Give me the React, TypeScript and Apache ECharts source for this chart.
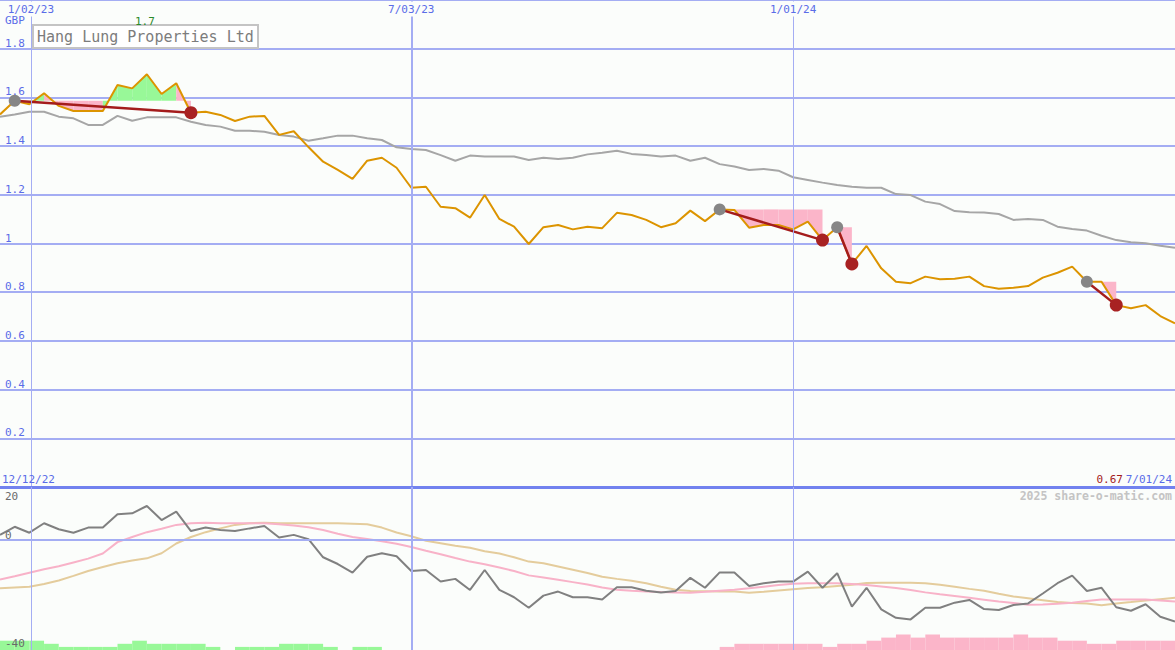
import React, { useEffect, useRef } from "react";
import * as echarts from "echarts";

// Weekly closing price (GBP), index 0 = first week on the chart
const price = [
  1.530, 1.586, 1.572, 1.617, 1.565, 1.544, 1.544, 1.544, 1.651, 1.637,
  1.695, 1.614, 1.658, 1.537, 1.541, 1.528, 1.503, 1.521, 1.524, 1.446,
  1.461, 1.396, 1.336, 1.302, 1.265, 1.340, 1.352, 1.311, 1.229, 1.233,
  1.151, 1.145, 1.106, 1.199, 1.101, 1.069, 0.998, 1.067, 1.076, 1.058,
  1.069, 1.063, 1.126, 1.117, 1.097, 1.067, 1.083, 1.135, 1.092, 1.140,
  1.138, 1.065, 1.076, 1.076, 1.058, 1.090, 1.014, 1.067, 0.916, 0.990,
  0.898, 0.843, 0.837, 0.864, 0.853, 0.855, 0.864, 0.825, 0.814, 0.818,
  0.825, 0.860, 0.880, 0.905, 0.843, 0.843, 0.747, 0.734, 0.747, 0.702,
  0.672,
];

// Relative-strength comparison line (grey)
const relative = [
  1.521, 1.530, 1.541, 1.541, 1.521, 1.514, 1.487, 1.487, 1.524, 1.504,
  1.518, 1.518, 1.518, 1.500, 1.487, 1.480, 1.463, 1.463, 1.459, 1.446,
  1.439, 1.422, 1.432, 1.443, 1.443, 1.432, 1.425, 1.395, 1.388, 1.384,
  1.363, 1.340, 1.361, 1.357, 1.357, 1.357, 1.343, 1.352, 1.347, 1.352,
  1.366, 1.373, 1.381, 1.368, 1.363, 1.357, 1.361, 1.340, 1.352, 1.326,
  1.316, 1.302, 1.306, 1.299, 1.272, 1.261, 1.250, 1.240, 1.233, 1.229,
  1.229, 1.203, 1.199, 1.172, 1.162, 1.133, 1.128, 1.127, 1.121, 1.097,
  1.101, 1.097, 1.069, 1.060, 1.053, 1.032, 1.014, 1.005, 1.001, 0.991,
  0.983,
];

// Lower panel oscillator (dark grey)
const oscillator = [
  1.9, 4.9, 2.7, 6.2, 4.0, 2.7, 4.6, 4.6, 9.5, 9.9,
  12.6, 7.4, 10.5, 3.3, 4.6, 3.7, 3.3, 4.3, 5.2, 0.9,
  1.9, 0.3, -6.4, -8.9, -12.1, -6.2, -4.9, -6.0, -11.5, -11.1,
  -15.4, -14.4, -18.5, -11.1, -18.5, -21.2, -25.1, -20.6, -19.1, -21.2,
  -21.2, -22.0, -17.5, -17.5, -18.8, -19.4, -18.9, -14.0, -17.7, -12.0,
  -12.0, -17.0, -16.0, -15.4, -15.4, -11.7, -17.7, -12.3, -24.7, -17.7,
  -25.7, -28.8, -29.4, -25.1, -25.1, -23.2, -22.2, -25.6, -25.9, -24.1,
  -23.5, -19.8, -16.0, -13.2, -18.9, -17.7, -24.9, -26.2, -23.8, -28.4,
  -30.2,
];

// Lower panel fast average (pink)
const averageFast = [
  -14.6, -13.4, -12.1, -10.8, -9.7, -8.3, -6.9, -5.0, -0.8, 1.1,
  2.9, 4.2, 5.6, 6.2, 6.4, 6.2, 6.2, 6.2, 6.2, 5.8,
  5.4, 4.7, 3.7, 2.3, 1.1, 0.4, -0.5, -1.4, -2.6, -4.0,
  -5.3, -6.7, -8.0, -9.0, -10.2, -11.5, -13.1, -13.9, -14.7, -15.6,
  -16.5, -17.6, -18.4, -18.8, -19.1, -19.3, -19.4, -19.5, -19.2, -18.8,
  -18.4, -17.9, -17.3, -16.7, -16.2, -16.0, -16.0, -16.0, -16.3, -16.7,
  -17.2, -17.8, -18.5, -19.4, -20.1, -20.7, -21.4, -22.1, -22.8, -23.3,
  -24.0, -23.9, -23.6, -23.2, -22.6, -22.0, -22.0, -22.0, -22.0, -22.4,
  -22.8,
];

// Lower panel slow average (tan)
const averageSlow = [
  -17.9, -17.6, -17.3, -16.3, -15.0, -13.3, -11.5, -10.0, -8.6, -7.6,
  -6.8, -4.9, -1.3, 1.1, 2.9, 4.3, 5.6, 6.2, 6.4, 6.2,
  6.2, 6.2, 6.2, 6.2, 6.0, 5.8, 4.6, 2.8, 1.4, -0.3,
  -1.2, -2.1, -2.9, -4.2, -5.0, -6.4, -8.0, -8.6, -9.8, -11.0,
  -12.2, -13.6, -14.4, -15.1, -16.0, -17.3, -18.4, -18.9, -19.0, -19.1,
  -19.1, -19.5, -19.2, -18.7, -18.2, -17.8, -17.5, -17.0, -16.6, -15.9,
  -15.8, -15.8, -15.8, -16.0, -16.6, -17.3, -18.1, -18.8, -19.9, -20.9,
  -21.6, -22.3, -23.0, -23.3, -23.5, -24.2, -23.5, -23.0, -22.4, -21.9,
  -21.4,
];

// Weekly histogram levels (positive = green, negative = pink), one per week interval
const histogram = [
  3, 3, 3, 2, 1, 1, 1, 1, 2, 3,
  2, 2, 2, 2, 1, 0, 1, 1, 1, 2,
  2, 2, 1, 0, 1, 1, 0, 0, 0, 0,
  0, 0, 0, 0, 0, 0, 0, 0, 0, 0,
  0, 0, 0, 0, 0, 0, 0, 0, 0, -1,
  -2, -2, -2, -2, -2, -2, -1, -2, -2, -3,
  -4, -5, -4, -5, -4, -4, -4, -4, -4, -5,
  -4, -4, -3, -3, -2, -2, -3, -3, -3, -3,
];

// Trades: entry and exit week indices
const tradeStart = [1, 49, 57, 74];
const tradeEnd = [13, 56, 58, 76];

// Date grid lines (week index) and their labels
const dateLinePos = [2.1, 28, 54];
const dateLineLabels = ["1/02/23", "7/03/23", "1/01/24"];
const dateLineWidths = [1, 2, 1];

const lowerTicks = [20, 0, -40];
const titleText = "Hang Lung Properties Ltd";
const currencyText = "GBP";
const rangeStartLabel = "12/12/22";
const rangeEndLabel = "7/01/24";
const creditText = "2025 share-o-matic.com";

const MONO = "'DejaVu Sans Mono', 'Liberation Mono', monospace";
const BG = "#fbfdfb";
const LIGHT_BLUE = "#a4adf3";
const DIVIDER = "#7282ef";
const LABEL_BLUE = "#5a6ce8";
const ORANGE = "#dc9400";
const REL_GREY = "#a6a6a6";
const FILL_PINK = "#fbb5c9";
const FILL_GREEN = "#98f898";
const DARK_RED = "#a41c1c";
const DOT_RED = "#a82222";
const DOT_GREY = "#868686";

const LOWER_MIN = -40.74;
const LOWER_MAX = 19.63;

export default function App() {
  const ref = useRef<HTMLDivElement>(null);

  useEffect(() => {
    document.body.style.margin = "0";
    const chart = echarts.init(ref.current!, null, { renderer: "svg" });
    const pairs = (arr: number[]) => arr.map((v, i) => [i, v]);
    const lastIdx = price.length - 1;

    const dateMarkLines = dateLinePos.map((x, i) => ({
      xAxis: x,
      lineStyle: { color: LIGHT_BLUE, width: dateLineWidths[i], type: "solid" },
    }));

    const option: any = {
      animation: false,
      backgroundColor: BG,
      grid: [
        { left: 0, right: 0, top: 0, height: 487 },
        { left: 0, right: 0, top: 487, height: 163 },
      ],
      xAxis: [
        { type: "value", gridIndex: 0, min: 0, max: lastIdx, show: false },
        { type: "value", gridIndex: 1, min: 0, max: lastIdx, show: false },
      ],
      yAxis: [
        {
          type: "value",
          gridIndex: 0,
          min: 0,
          max: 2,
          interval: 0.2,
          axisLine: { show: false },
          axisTick: { show: false },
          splitLine: { show: true, lineStyle: { color: LIGHT_BLUE, width: 2 } },
          axisLabel: {
            inside: true,
            margin: 5,
            align: "left",
            verticalAlign: "bottom",
            color: LABEL_BLUE,
            fontFamily: MONO,
            fontSize: 11,
            showMinLabel: false,
            showMaxLabel: false,
            formatter: (v: number) => (v <= 0.001 || v >= 1.999 ? "" : String(+v.toFixed(1))),
          },
        },
        { type: "value", gridIndex: 1, min: LOWER_MIN, max: LOWER_MAX, show: false },
        { type: "value", gridIndex: 1, min: 0, max: 52.6, show: false },
      ],
      series: [
        // trade shading
        {
          type: "custom",
          xAxisIndex: 0,
          yAxisIndex: 0,
          z: 1,
          silent: true,
          data: tradeStart.map((s, i) => [s, tradeEnd[i]]),
          renderItem: (_p: any, api: any) => {
            const s = api.value(0);
            const e = api.value(1);
            const level = price[s];
            const children: any[] = [];
            for (let k = s; k < e; k++) {
              const p1 = api.coord([k, price[k]]);
              const p2 = api.coord([k + 1, price[k + 1]]);
              const l1 = api.coord([k, level]);
              const l2 = api.coord([k + 1, level]);
              children.push({
                type: "polygon",
                shape: { points: [p1, p2, l2, l1] },
                style: { fill: price[k + 1] > level ? FILL_GREEN : FILL_PINK },
              });
            }
            return { type: "group", children };
          },
        },
        {
          type: "line",
          name: "relative",
          xAxisIndex: 0,
          yAxisIndex: 0,
          z: 2,
          data: pairs(relative),
          symbol: "none",
          lineStyle: { color: REL_GREY, width: 2 },
          markLine: {
            silent: true,
            symbol: "none",
            label: { show: false },
            data: [
              ...dateMarkLines,
              { yAxis: 0, lineStyle: { color: DIVIDER, width: 3, type: "solid" } },
            ],
          },
        },
        {
          type: "line",
          name: "price",
          xAxisIndex: 0,
          yAxisIndex: 0,
          z: 3,
          data: pairs(price),
          symbol: "none",
          lineStyle: { color: ORANGE, width: 2 },
        },
        // trade lines and markers
        {
          type: "custom",
          xAxisIndex: 0,
          yAxisIndex: 0,
          z: 4,
          silent: true,
          data: tradeStart.map((s, i) => [s, tradeEnd[i]]),
          renderItem: (_p: any, api: any) => {
            const s = api.value(0);
            const e = api.value(1);
            const a = api.coord([s, price[s]]);
            const b = api.coord([e, price[e]]);
            return {
              type: "group",
              children: [
                {
                  type: "line",
                  shape: { x1: a[0], y1: a[1], x2: b[0], y2: b[1] },
                  style: { stroke: DARK_RED, lineWidth: 2.5 },
                },
                { type: "circle", shape: { cx: a[0], cy: a[1], r: 6 }, style: { fill: DOT_GREY } },
                { type: "circle", shape: { cx: b[0], cy: b[1], r: 6.5 }, style: { fill: DOT_RED } },
              ],
            };
          },
        },
        // lower histogram
        {
          type: "custom",
          xAxisIndex: 1,
          yAxisIndex: 2,
          z: 1,
          silent: true,
          data: histogram.map((v, j) => [j, v]),
          renderItem: (_p: any, api: any) => {
            const j = api.value(0);
            const v = api.value(1);
            if (!v) return null;
            const a = api.coord([j, Math.abs(v)]);
            const b = api.coord([j + 1, 0]);
            return {
              type: "rect",
              shape: { x: a[0], y: a[1], width: b[0] - a[0], height: b[1] - a[1] },
              style: { fill: v > 0 ? FILL_GREEN : FILL_PINK },
            };
          },
        },
        {
          type: "line",
          name: "slow",
          xAxisIndex: 1,
          yAxisIndex: 1,
          z: 2,
          data: pairs(averageSlow),
          symbol: "none",
          lineStyle: { color: "#e4cc9c", width: 2 },
          markLine: {
            silent: true,
            symbol: "none",
            label: { show: false },
            data: [
              ...dateMarkLines,
              { yAxis: 0, lineStyle: { color: LIGHT_BLUE, width: 2, type: "solid" } },
            ],
          },
        },
        {
          type: "line",
          name: "fast",
          xAxisIndex: 1,
          yAxisIndex: 1,
          z: 3,
          data: pairs(averageFast),
          symbol: "none",
          lineStyle: { color: "#f8b2c8", width: 2 },
        },
        {
          type: "line",
          name: "oscillator",
          xAxisIndex: 1,
          yAxisIndex: 1,
          z: 4,
          data: pairs(oscillator),
          symbol: "none",
          lineStyle: { color: "#808080", width: 2 },
        },
      ],
    };
    chart.setOption(option);

    const toPx = (g: number, p: number[]) => chart.convertToPixel({ gridIndex: g } as any, p) as number[];
    const lowerTop = toPx(1, [0, LOWER_MAX])[1];

    let maxIdx = 0;
    price.forEach((v, i) => {
      if (v > price[maxIdx]) maxIdx = i;
    });

    const txt = (text: string, x: number, y: number, fill: string, extra: any = {}) => ({
      type: "text",
      z: 100,
      silent: true,
      style: {
        text,
        x,
        y,
        fill,
        font: `11px ${MONO}`,
        align: "left",
        verticalAlign: "middle",
        ...extra,
      },
    });

    const graphics: any[] = [];
    dateLinePos.forEach((x, i) => {
      const px = toPx(0, [x, 0])[0];
      graphics.push(
        txt(dateLineLabels[i], px, 9, LABEL_BLUE, {
          align: "center",
          backgroundColor: BG,
          padding: [2, 1, 2, 1],
        })
      );
    });
    graphics.push(txt(currencyText, 5, 20, LABEL_BLUE));
    graphics.push(
      txt(price[maxIdx].toFixed(1), toPx(0, [maxIdx, 0])[0] - 2, 21, "#2a8a2a", { align: "center" })
    );
    graphics.push({
      type: "rect",
      z: 99,
      silent: true,
      shape: { x: 33, y: 25, width: 225, height: 23 },
      style: { fill: "#ffffff", stroke: "#c4c4c4", lineWidth: 2 },
    });
    graphics.push(txt(titleText, 37, 36.5, "#7c7c7c", { font: `15px ${MONO}` }));

    graphics.push(txt(rangeStartLabel, 2, lowerTop - 8, LABEL_BLUE));
    graphics.push(txt(rangeEndLabel, 1172, lowerTop - 8, LABEL_BLUE, { align: "right" }));
    graphics.push(
      txt(price[lastIdx].toFixed(2), 1123, lowerTop - 8, DARK_RED, { align: "right" })
    );
    graphics.push(
      txt(creditText, 1172, lowerTop + 9, "#c4c4c4", { align: "right", font: `bold 11.5px ${MONO}` })
    );
    lowerTicks.forEach((v) => {
      const y = toPx(1, [0, v])[1];
      graphics.push(txt(String(v), 5, Math.max(y - 5, lowerTop + 9), "#6a6a6a"));
    });

    chart.setOption({ graphic: graphics });

    return () => {
      chart.dispose();
    };
  }, []);

  return <div ref={ref} style={{ width: 1175, height: 650 }} />;
}
